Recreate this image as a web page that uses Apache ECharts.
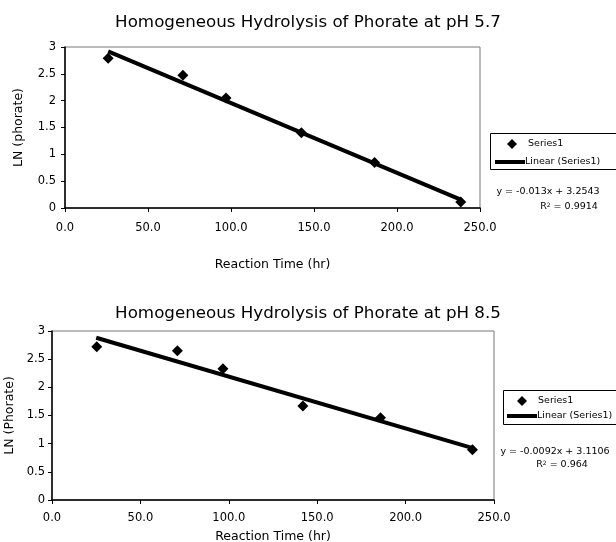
<!DOCTYPE html>
<html>
<head>
<meta charset="utf-8">
<script src="https://cdn.jsdelivr.net/npm/echarts@6/dist/echarts.min.js"></script>
<style>
  html, body { margin: 0; padding: 0; background: #fff; }
  #chart { width: 616px; height: 542px; }
</style>
</head>
<body>
<div id="chart"></div>
<script>
// values
const timeA = [26, 71, 97, 142.4, 186.5, 238.4]
const lnA = [2.79, 2.475, 2.05, 1.40, 0.85, 0.11]
const trendA = [[26, 2.92], [238, 0.16]]

const timeB = [25.3, 70.9, 96.7, 141.9, 185.8, 237.8]
const lnB = [2.72, 2.65, 2.33, 1.67, 1.46, 0.89]
const trendB = [[25, 2.88], [238, 0.92]]

const xTickLabels = ['0.0', '50.0', '100.0', '150.0', '200.0', '250.0']
const titles = ['Homogeneous Hydrolysis of Phorate at pH 5.7', 'Homogeneous Hydrolysis of Phorate at pH 8.5']
const yNames = ['LN (phorate)', 'LN (Phorate)']
const equations = ['y = -0.013x + 3.2543', 'y = -0.0092x + 3.1106']
const r2 = ['0.9914', '0.964']

const font = 'DejaVu Sans'
const chart = echarts.init(document.getElementById('chart'))

const pairs = (xs, ys) => xs.map((x, i) => [x, ys[i]])

function xAxisFor(gridIndex, margin, nameGap) {
  return {
    gridIndex,
    type: 'value',
    min: 0,
    max: 250,
    interval: 50,
    name: 'Reaction Time (hr)',
    nameLocation: 'middle',
    nameGap,
    nameTextStyle: { fontFamily: font, fontSize: 12.5, color: '#000' },
    axisLine: { show: true, onZero: false, lineStyle: { color: '#000', width: 1.5 } },
    axisTick: { show: true, length: 4, lineStyle: { color: '#000' } },
    axisLabel: {
      fontFamily: font, fontSize: 11.5, color: '#000', margin,
      formatter: v => xTickLabels[v / 50],
    },
    splitLine: { show: false },
  }
}

function yAxisFor(gridIndex, name, margin, nameGap) {
  return {
    gridIndex,
    type: 'value',
    min: 0,
    max: 3,
    interval: 0.5,
    name,
    nameLocation: 'middle',
    nameGap,
    nameTextStyle: { fontFamily: font, fontSize: 12.5, color: '#000' },
    axisLine: { show: true, onZero: false, lineStyle: { color: '#000', width: 1.5 } },
    axisTick: { show: true, length: 4, lineStyle: { color: '#000' } },
    axisLabel: { fontFamily: font, fontSize: 11.5, color: '#000', margin },
    splitLine: { show: false },
  }
}

// one legend for the diamond, one for the trend line, so each icon keeps its own size
function legendPair(diamondLeft, diamondTop, lineLeft, lineTop) {
  const text = pad => ({ fontFamily: font, fontSize: 9.5, color: '#000', padding: pad })
  return [
    {
      left: diamondLeft, top: diamondTop, padding: 0, itemWidth: 10, itemHeight: 10, selectedMode: false,
      textStyle: text([0, 0, 0, 6]),
      data: [{ name: 'Series1', icon: 'diamond' }],
    },
    {
      left: lineLeft, top: lineTop, padding: 0, itemWidth: 30, itemHeight: 4, selectedMode: false,
      textStyle: text([0, 0, 0, -5]),
      data: [{ name: 'Linear (Series1)', icon: 'rect' }],
    },
  ]
}

const eqText = (x, y, text) => ({
  type: 'text', x, y,
  style: { text, font: `9.5px "${font}"`, fill: '#000', align: 'center', verticalAlign: 'middle' },
})
const r2Text = (x, y, val) => ({
  type: 'text', x, y,
  style: {
    text: `R{sup|2} = ${val}`,
    font: `9.5px "${font}"`, fill: '#000', align: 'center', verticalAlign: 'middle',
    rich: { sup: { font: `6px "${font}"`, fill: '#000', verticalAlign: 'top', padding: [0, 0, 4, 0] } },
  },
})

const markerStyle = { color: '#000', opacity: 1 }

chart.setOption({
  animation: false,
  title: titles.map((t, i) => ({
    text: t,
    left: 'center',
    top: i === 0 ? 9 : 300,
    textStyle: { fontFamily: font, fontSize: 16.7, fontWeight: 'normal', color: '#000' },
  })),
  grid: [
    { left: 65, right: 136, top: 47, height: 161, show: true, borderColor: '#777', borderWidth: 1, outerBoundsMode: 'none' },
    { left: 52, right: 122, top: 331, height: 169, show: true, borderColor: '#777', borderWidth: 1, outerBoundsMode: 'none' },
  ],
  xAxis: [xAxisFor(0, 14, 50), xAxisFor(1, 12, 30)],
  yAxis: [yAxisFor(0, yNames[0], 9, 40), yAxisFor(1, yNames[1], 7, 29)],
  legend: [...legendPair(507, 139, 495, 157), ...legendPair(517, 396, 507, 411)],
  graphic: [
    { type: 'rect', shape: { x: 490.5, y: 133.5, width: 140, height: 36 }, style: { fill: 'none', stroke: '#000', lineWidth: 1 } },
    { type: 'rect', shape: { x: 503.5, y: 390.5, width: 140, height: 34 }, style: { fill: 'none', stroke: '#000', lineWidth: 1 } },
    eqText(548, 192, equations[0]),
    r2Text(569, 207, r2[0]),
    eqText(555, 452, equations[1]),
    r2Text(562, 465, r2[1]),
  ],
  series: [
    { name: 'Series1', type: 'scatter', xAxisIndex: 0, yAxisIndex: 0, data: pairs(timeA, lnA), symbol: 'diamond', symbolSize: 11, itemStyle: markerStyle, z: 3 },
    { name: 'Linear (Series1)', type: 'line', xAxisIndex: 0, yAxisIndex: 0, data: trendA, symbol: 'none', lineStyle: { color: '#000', width: 4 }, itemStyle: { color: '#000' } },
    { name: 'Series1', type: 'scatter', xAxisIndex: 1, yAxisIndex: 1, data: pairs(timeB, lnB), symbol: 'diamond', symbolSize: 11, itemStyle: markerStyle, z: 3 },
    { name: 'Linear (Series1)', type: 'line', xAxisIndex: 1, yAxisIndex: 1, data: trendB, symbol: 'none', lineStyle: { color: '#000', width: 4 }, itemStyle: { color: '#000' } },
  ],
})
</script>
</body>
</html>
